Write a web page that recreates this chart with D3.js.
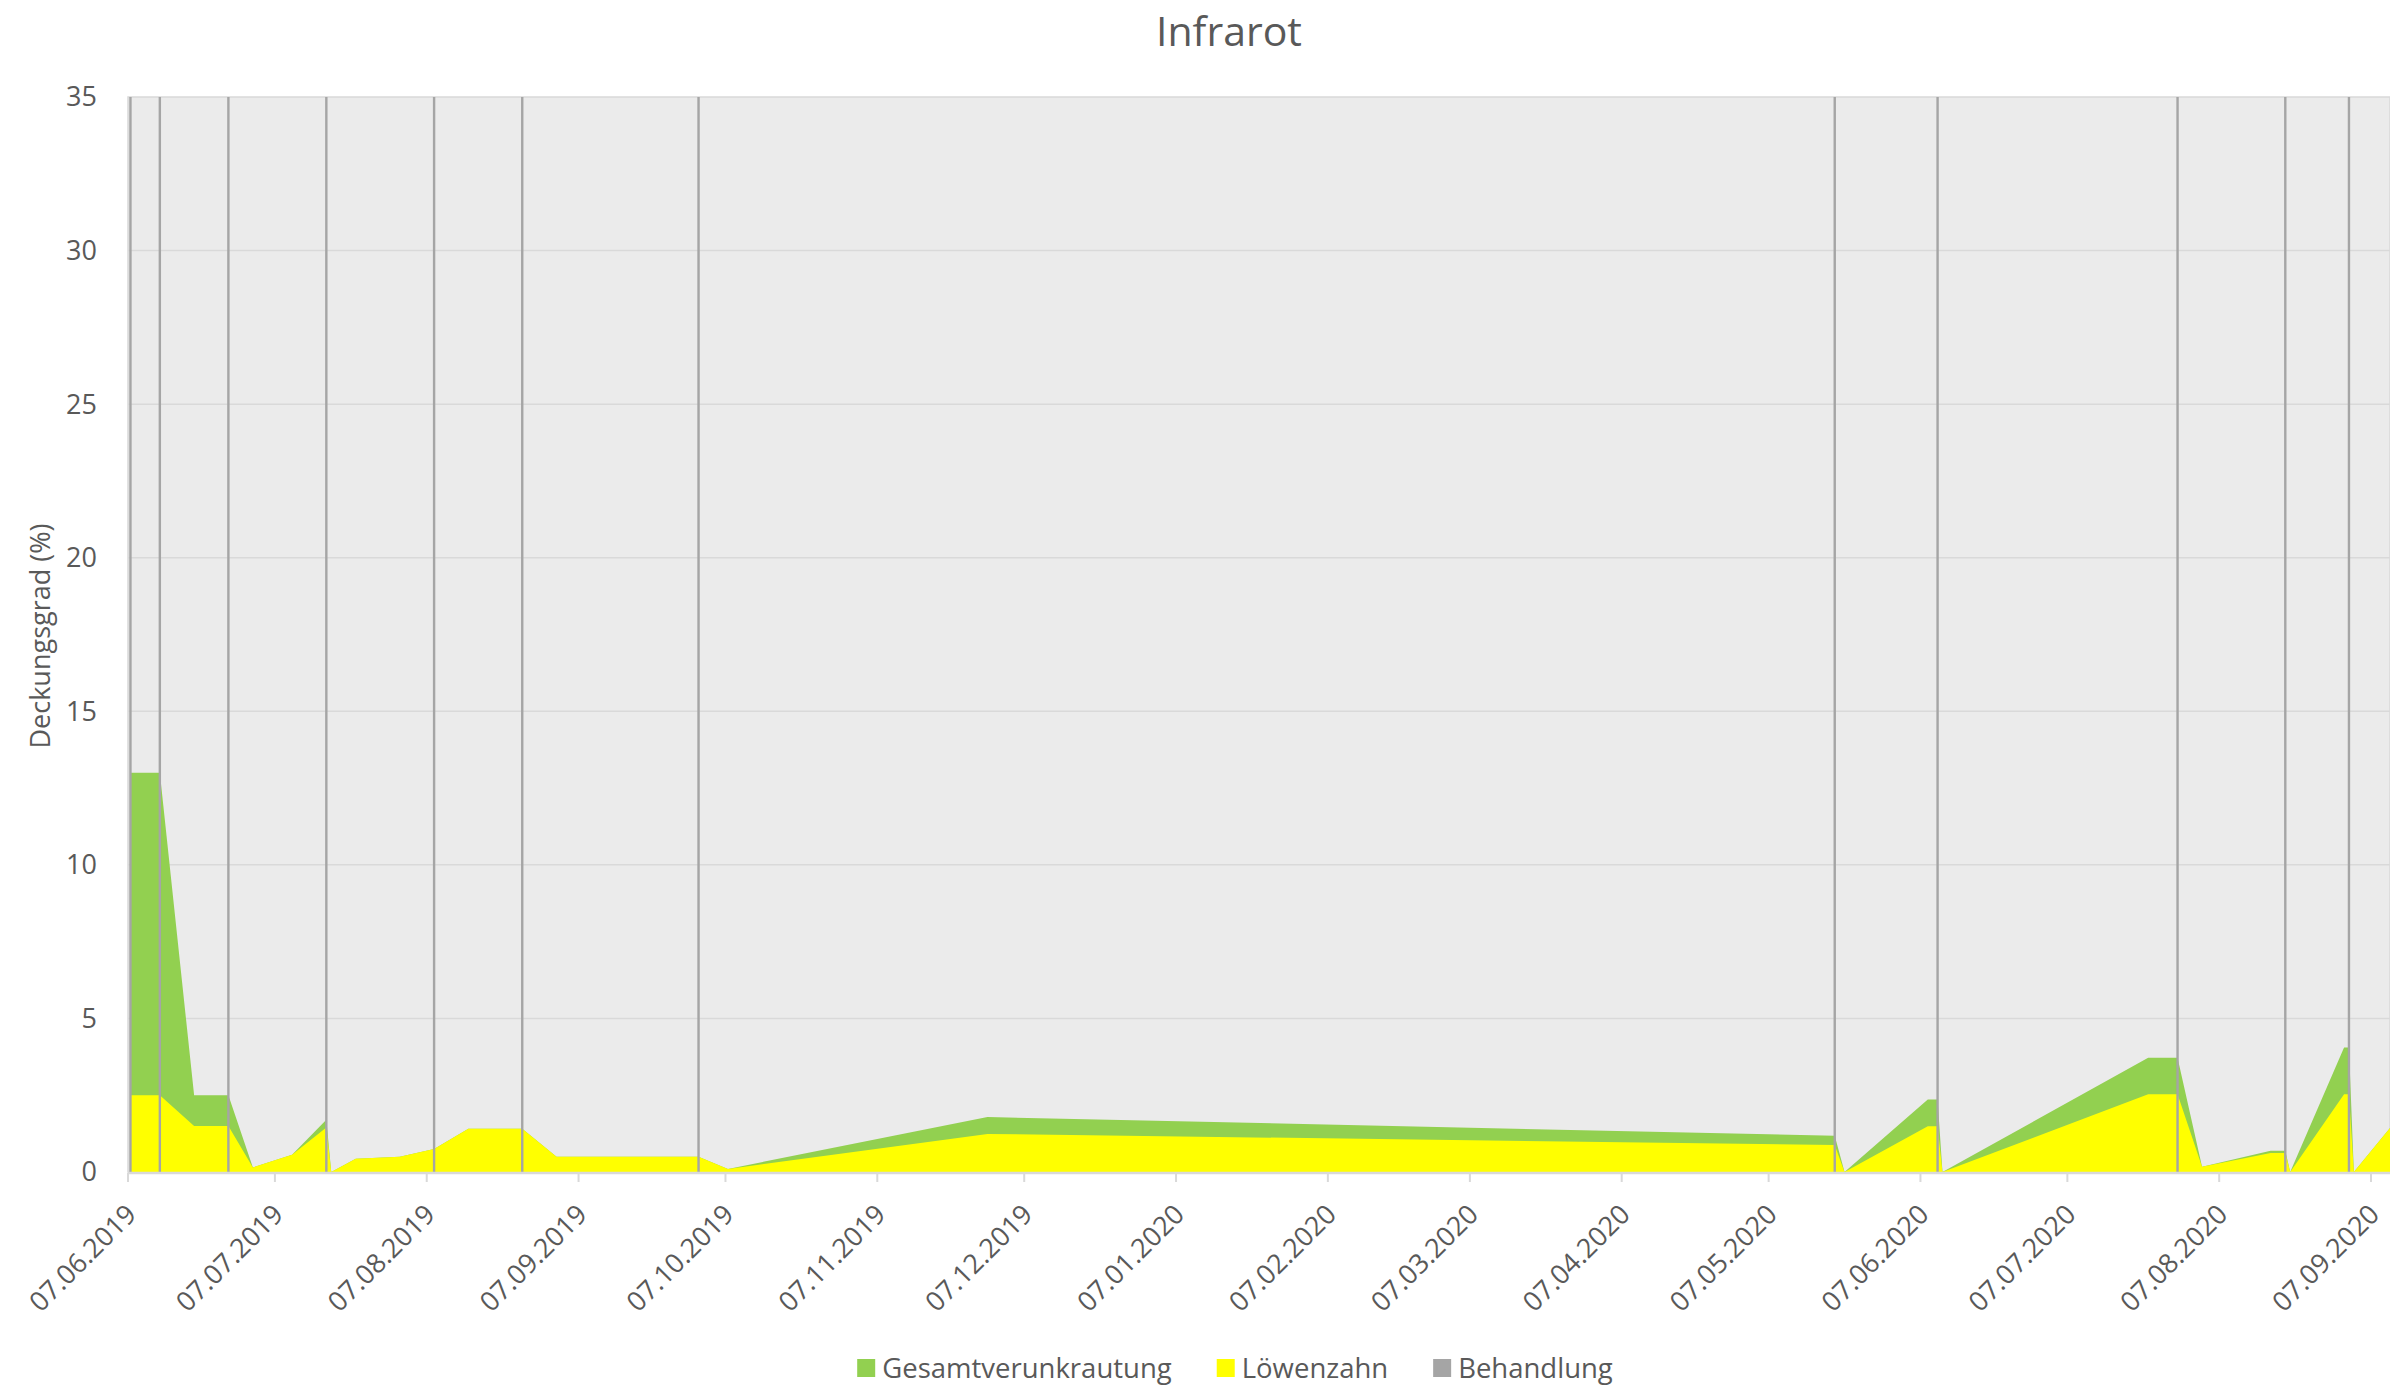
<!DOCTYPE html>
<html>
<head>
<meta charset="UTF-8" />
<title>Infrarot</title>
<script src="https://d3js.org/d3.v7.min.js"></script>
<style>
body { margin: 0; background: #fff; }
svg { display: block; font-family: "Open Sans", sans-serif; }
</style>
</head>
<body>
<svg id="chart" width="2390" height="1387"></svg>
<script>
// Messtermine und Deckungsgrad (%)
var dates = ["07.06.2019", "13.06.2019", "20.06.2019", "27.06.2019", "02.07.2019", "10.07.2019",
    "17.07.2019", "18.07.2019", "23.07.2019", "01.08.2019", "08.08.2019", "15.08.2019",
    "26.08.2019", "02.09.2019", "01.10.2019", "07.10.2019", "29.11.2019", "20.05.2020",
    "22.05.2020", "08.06.2020", "10.06.2020", "11.06.2020", "23.07.2020", "29.07.2020",
    "03.08.2020", "17.08.2020", "20.08.2020", "21.08.2020", "01.09.2020", "02.09.2020",
    "03.09.2020", "12.09.2020"];
var gesamt = [13, 13, 2.5, 2.5, 0.15, 0.56, 1.7, 0, 0.43, 0.5, 0.75, 1.41,
    1.41, 0.5, 0.5, 0.1, 1.79, 1.18, 0, 2.36, 2.36, 0, 3.72, 3.72,
    0.17, 0.69, 0.69, 0, 4.05, 4.05, 0, 1.75];
var loewenzahn = [2.5, 2.5, 1.5, 1.5, 0.15, 0.56, 1.45, 0, 0.43, 0.5, 0.75, 1.41,
    1.41, 0.5, 0.5, 0.1, 1.24, 0.88, 0, 1.49, 1.49, 0, 2.53, 2.53,
    0.17, 0.62, 0.62, 0, 2.53, 2.53, 0, 1.75];
// Behandlungstermine (Balken bis 35)
var behandlung = ["07.06.2019", "13.06.2019", "27.06.2019", "17.07.2019", "08.08.2019",
    "26.08.2019", "01.10.2019", "20.05.2020", "10.06.2020", "29.07.2020", "20.08.2020",
    "02.09.2020"];
var behandlungWert = 35;
var yTicks = [0, 5, 10, 15, 20, 25, 30, 35];
var xTickLabels = ["07.06.2019", "07.07.2019", "07.08.2019", "07.09.2019", "07.10.2019",
    "07.11.2019", "07.12.2019", "07.01.2020", "07.02.2020", "07.03.2020", "07.04.2020",
    "07.05.2020", "07.06.2020", "07.07.2020", "07.08.2020", "07.09.2020"];
var seriesNames = ["Gesamtverunkrautung", "Löwenzahn", "Behandlung"];
var seriesColors = ["#92d050", "#ffff00", "#a5a5a5"];

var svg = d3.select("#chart"),
    width = +svg.attr("width"),
    height = +svg.attr("height");
var plotLeft = 128, plotRight = width, plotTop = 97, plotBottom = 1172;
var textColor = "#595959";
var parse = d3.utcParse("%d.%m.%Y");

var x = d3.scaleUtc()
    .domain([parse("07.06.2019"), parse("07.09.2020")])
    .range([plotLeft, 2371]);
var y = d3.scaleLinear().domain([0, 35]).range([plotBottom, plotTop]);
// Punkte liegen in der Tagesmitte
var halfDay = (x(parse("08.06.2019")) - x(parse("07.06.2019"))) / 2;
function xc(s) { return x(parse(s)) + halfDay; }

svg.append("defs").append("clipPath").attr("id", "plotclip")
    .append("rect").attr("x", plotLeft).attr("y", plotTop - 2)
    .attr("width", plotRight - plotLeft).attr("height", plotBottom - plotTop + 2);

// Hintergrund Zeichnungsfläche
svg.append("rect")
    .attr("x", plotLeft).attr("y", plotTop)
    .attr("width", plotRight - plotLeft).attr("height", plotBottom - plotTop)
    .attr("fill", "#ebebeb").attr("stroke", "#d9d9d9").attr("stroke-width", 1.5);

// Gitterlinien
svg.append("g").selectAll("line").data(yTicks.slice(1, -1)).enter()
    .append("line")
    .attr("x1", plotLeft).attr("x2", plotRight)
    .attr("y1", function(d) { return y(d); }).attr("y2", function(d) { return y(d); })
    .attr("stroke", "#d9d9d9").attr("stroke-width", 1.5);

var plot = svg.append("g").attr("clip-path", "url(#plotclip)");

function area(values) {
    return d3.area()
        .x(function(d, i) { return xc(dates[i]); })
        .y0(y(0))
        .y1(function(d) { return y(d); })(values);
}
plot.append("path").attr("d", area(gesamt)).attr("fill", seriesColors[0]);
plot.append("path").attr("d", area(loewenzahn)).attr("fill", seriesColors[1]);

// Behandlung als schmale Säulen
plot.append("g").selectAll("rect").data(behandlung).enter()
    .append("rect")
    .attr("x", function(d) { return xc(d) - 1.2; })
    .attr("width", 2.4)
    .attr("y", y(behandlungWert))
    .attr("height", y(0) - y(behandlungWert))
    .attr("fill", seriesColors[2]);

// x-Achse
svg.append("line")
    .attr("x1", plotLeft).attr("x2", plotRight).attr("y1", plotBottom + 1).attr("y2", plotBottom + 1)
    .attr("stroke", "#d9d9d9").attr("stroke-width", 2.5);
var xt = svg.append("g").selectAll("g").data(xTickLabels).enter()
    .append("g")
    .attr("transform", function(d) { return "translate(" + x(parse(d)) + "," + plotBottom + ")"; });
xt.append("line").attr("y1", 1).attr("y2", 10).attr("stroke", "#d9d9d9").attr("stroke-width", 2);
xt.append("text")
    .attr("transform", "translate(10,44) rotate(-45)")
    .attr("text-anchor", "end")
    .attr("font-size", 27)
    .attr("fill", textColor)
    .text(function(d) { return d; });

// y-Achse
svg.append("g").selectAll("text").data(yTicks).enter()
    .append("text")
    .attr("x", 97)
    .attr("y", function(d) { return y(d); })
    .attr("dy", "0.35em")
    .attr("text-anchor", "end")
    .attr("font-size", 27)
    .attr("fill", textColor)
    .text(function(d) { return d; });

svg.append("text")
    .attr("transform", "translate(50,636) rotate(-90)")
    .attr("text-anchor", "middle")
    .attr("font-size", 27)
    .attr("fill", textColor)
    .text("Deckungsgrad (%)");

// Titel
svg.append("text")
    .attr("x", 1229).attr("y", 46)
    .attr("text-anchor", "middle")
    .attr("font-size", 41)
    .attr("fill", textColor)
    .text("Infrarot");

// Legende
var legend = svg.append("g");
var lx = 0;
seriesNames.forEach(function(name, i) {
    var item = legend.append("g").attr("transform", "translate(" + lx + ",0)");
    item.append("rect").attr("x", 0).attr("y", -9).attr("width", 18).attr("height", 18)
        .attr("fill", seriesColors[i]);
    var t = item.append("text").attr("x", 25).attr("dy", "0.35em")
        .attr("font-size", 27.5).attr("fill", textColor).text(name);
    lx += 25 + t.node().getComputedTextLength() + 45;
});
lx -= 45;
legend.attr("transform", "translate(" + (1235 - lx / 2) + ",1368)");
</script>
</body>
</html>
